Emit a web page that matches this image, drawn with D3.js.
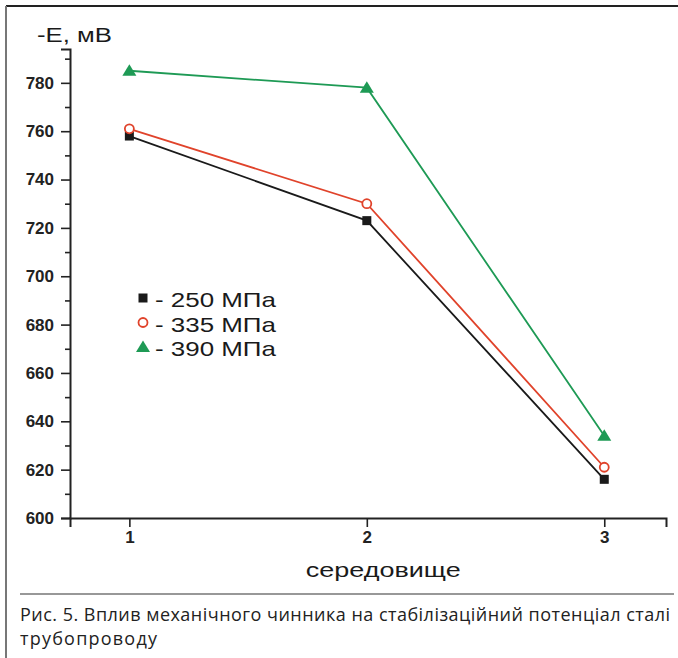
<!DOCTYPE html>
<html>
<head>
<meta charset="utf-8">
<script src="https://cdn.jsdelivr.net/npm/d3@7"></script>
<style>
  body { margin: 0; background: #fff; }
  svg { display: block; }
</style>
</head>
<body>
<svg></svg>
<script>
const media = [1, 2, 3];
const s250 = [758, 723, 616];
const s335 = [761, 730, 621];
const s390 = [785, 778, 634];
const yTicks = [600, 620, 640, 660, 680, 700, 720, 740, 760, 780];
const legendLabels = ["- 250 МПа", "- 335 МПа", "- 390 МПа"];
const caption = ["Рис. 5. Вплив механічного чинника на стабілізаційний потенціал сталі", "трубопроводу"];

const width = 678, height = 658;
const svg = d3.select("svg").attr("width", width).attr("height", height);

// frame
svg.append("line").attr("x1", 6).attr("x2", width).attr("y1", 6).attr("y2", 6)
  .attr("stroke", "#222").attr("stroke-width", 2);
svg.append("line").attr("x1", 6).attr("x2", 6).attr("y1", 6).attr("y2", height)
  .attr("stroke", "#777").attr("stroke-width", 2);

const x = d3.scaleLinear().domain([0.75, 3.26]).range([70, 666]);
const y = d3.scaleLinear().domain([600, 794]).range([518, 49]);

const font = "'Liberation Sans', Arial, sans-serif";

// text that is stretched sideways to a given width
function wideText(tx, ty, size, target, str) {
  const g = svg.append("g");
  const t = g.append("text").attr("font-family", font).attr("font-size", size)
    .attr("fill", "#1a1a1a").text(str);
  const k = target / t.node().getComputedTextLength();
  g.attr("transform", `translate(${tx},${ty}) scale(${k},1)`);
  return g;
}

// y axis
const yAxis = svg.append("g").attr("transform", "translate(70,0)")
  .call(d3.axisLeft(y).tickValues(yTicks).tickSize(9).tickPadding(7).tickFormat(d3.format("d")));
yAxis.selectAll("text").attr("font-family", font).attr("font-weight", "bold")
  .attr("font-size", 17).attr("fill", "#222");
svg.append("g").attr("transform", "translate(70,0)")
  .call(d3.axisLeft(y).tickValues(d3.range(610, 791, 20)).tickSize(5).tickFormat(""))
  .select(".domain").remove();

// x axis
const xAxis = svg.append("g").attr("transform", "translate(0,518)")
  .call(d3.axisBottom(x).tickValues(media).tickSize(9).tickPadding(4).tickFormat(d3.format("d")));
xAxis.selectAll("text").attr("font-family", font).attr("font-weight", "bold")
  .attr("font-size", 17).attr("fill", "#222");

svg.selectAll(".domain").attr("stroke", "#222").attr("stroke-width", 2);
svg.selectAll(".tick line").attr("stroke", "#222").attr("stroke-width", 1.6);

// titles
wideText(37, 42, 21, 75, "-E, мВ");
wideText(x(2) - 61, 577, 21, 155, "середовище");

const series = [
  { vals: s250, color: "#1a1a1a", mark: "square" },
  { vals: s335, color: "#e0432b", mark: "circle" },
  { vals: s390, color: "#1e9a55", mark: "triangle" }
];

const line = d3.line().x((d, i) => x(media[i])).y(d => y(d));

function drawMark(g, type, color, cx, cy) {
  if (type === "square") {
    g.append("rect").attr("x", cx - 4.5).attr("y", cy - 4.5).attr("width", 9).attr("height", 9)
      .attr("fill", color);
  } else if (type === "circle") {
    g.append("circle").attr("cx", cx).attr("cy", cy).attr("r", 4.5)
      .attr("fill", "#fff").attr("stroke", color).attr("stroke-width", 1.8);
  } else {
    g.append("path").attr("transform", `translate(${cx},${cy})`)
      .attr("d", "M0,-6.5L7,5L-7,5Z").attr("fill", color);
  }
}

series.forEach(s => {
  svg.append("path").datum(s.vals).attr("d", line).attr("fill", "none")
    .attr("stroke", s.color).attr("stroke-width", 1.8);
});
series.forEach(s => {
  const g = svg.append("g");
  s.vals.forEach((v, i) => drawMark(g, s.mark, s.color, x(media[i]), y(v)));
});

// legend
series.forEach((s, i) => {
  const cy = 298 + i * 24.5;
  drawMark(svg.append("g"), s.mark, s.color, 143, cy);
  wideText(155, cy + 9, 20.5, 121, legendLabels[i]);
});

// caption
svg.append("line").attr("x1", 20).attr("x2", 674).attr("y1", 594).attr("y2", 594)
  .attr("stroke", "#333").attr("stroke-width", 1.2);
const capLen = [650, 137];
caption.forEach((t, i) => {
  svg.append("text").attr("x", 20).attr("y", 621 + i * 24)
    .attr("font-family", "'Open Sans', 'Noto Sans', sans-serif").attr("font-size", 18)
    .attr("fill", "#222").attr("textLength", capLen[i]).attr("lengthAdjust", "spacing")
    .text(t);
});
</script>
</body>
</html>
